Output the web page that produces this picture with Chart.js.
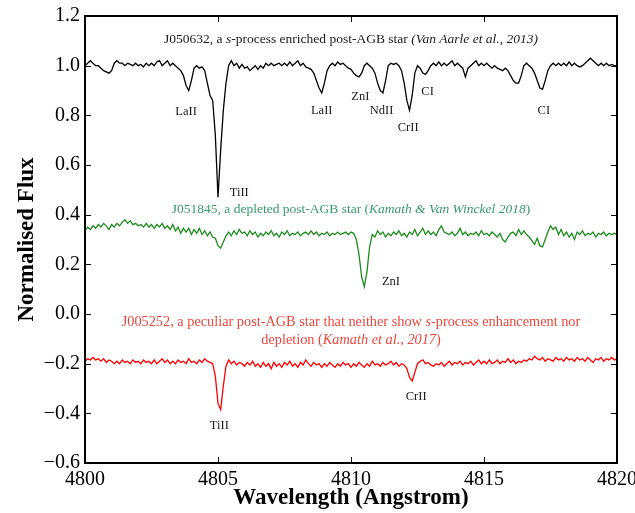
<!DOCTYPE html>
<html>
<head>
<meta charset="utf-8">
<script src="https://cdn.jsdelivr.net/npm/chart.js@4.4.0/dist/chart.umd.min.js"></script>
<style>
  body { margin: 0; background: #fff; }
  canvas { display: block; }
</style>
</head>
<body>
<canvas id="spectraChart" width="635" height="513"></canvas>
<script>
// wavelength grid (Angstrom)
const wavelength = [
  4800.0,4800.1,4800.2,4800.3,4800.4,4800.5,4800.6,4800.7,4800.8,4800.9,
  4801.0,4801.1,4801.2,4801.3,4801.4,4801.5,4801.6,4801.7,4801.8,4801.9,
  4802.0,4802.1,4802.2,4802.3,4802.4,4802.5,4802.6,4802.7,4802.8,4802.9,
  4803.0,4803.1,4803.2,4803.3,4803.4,4803.5,4803.6,4803.7,4803.8,4803.9,
  4804.0,4804.1,4804.2,4804.3,4804.4,4804.5,4804.6,4804.7,4804.8,4804.9,
  4805.0,4805.1,4805.2,4805.3,4805.4,4805.5,4805.6,4805.7,4805.8,4805.9,
  4806.0,4806.1,4806.2,4806.3,4806.4,4806.5,4806.6,4806.7,4806.8,4806.9,
  4807.0,4807.1,4807.2,4807.3,4807.4,4807.5,4807.6,4807.7,4807.8,4807.9,
  4808.0,4808.1,4808.2,4808.3,4808.4,4808.5,4808.6,4808.7,4808.8,4808.9,
  4809.0,4809.1,4809.2,4809.3,4809.4,4809.5,4809.6,4809.7,4809.8,4809.9,
  4810.0,4810.1,4810.2,4810.3,4810.4,4810.5,4810.6,4810.7,4810.8,4810.9,
  4811.0,4811.1,4811.2,4811.3,4811.4,4811.5,4811.6,4811.7,4811.8,4811.9,
  4812.0,4812.1,4812.2,4812.3,4812.4,4812.5,4812.6,4812.7,4812.8,4812.9,
  4813.0,4813.1,4813.2,4813.3,4813.4,4813.5,4813.6,4813.7,4813.8,4813.9,
  4814.0,4814.1,4814.2,4814.3,4814.4,4814.5,4814.6,4814.7,4814.8,4814.9,
  4815.0,4815.1,4815.2,4815.3,4815.4,4815.5,4815.6,4815.7,4815.8,4815.9,
  4816.0,4816.1,4816.2,4816.3,4816.4,4816.5,4816.6,4816.7,4816.8,4816.9,
  4817.0,4817.1,4817.2,4817.3,4817.4,4817.5,4817.6,4817.7,4817.8,4817.9,
  4818.0,4818.1,4818.2,4818.3,4818.4,4818.5,4818.6,4818.7,4818.8,4818.9,
  4819.0,4819.1,4819.2,4819.3,4819.4,4819.5,4819.6,4819.7,4819.8,4819.9,
  4820.0
];

// J050632 - s-process enriched
const fluxJ050632 = [
  1.00,1.01,1.02,1.01,1.00,1.00,0.99,0.98,0.975,0.97,
  0.98,1.01,1.02,1.01,1.01,1.00,1.01,1.005,1.00,1.01,
  1.00,1.005,0.995,1.01,1.00,1.01,1.00,1.015,1.02,1.00,
  1.01,1.02,1.00,1.01,1.00,0.99,0.98,0.96,0.92,0.90,
  0.94,0.99,1.00,0.99,0.995,0.98,0.93,0.88,0.86,0.72,
  0.47,0.66,0.82,0.93,1.00,1.02,1.00,1.01,0.99,1.005,
  0.99,0.995,0.98,0.99,1.00,0.985,1.00,0.99,1.01,1.00,
  1.01,1.00,1.005,1.01,1.00,1.01,1.00,1.015,1.00,1.01,
  1.02,1.00,1.01,0.995,0.99,0.985,0.97,0.94,0.91,0.89,
  0.93,0.98,1.00,1.01,1.00,1.015,1.005,1.01,1.00,0.99,
  0.985,0.97,0.96,0.955,0.97,1.00,1.01,1.00,0.99,0.97,
  0.93,0.90,0.89,0.94,1.00,1.01,1.005,1.01,1.00,0.98,
  0.93,0.86,0.82,0.88,0.97,1.00,0.99,0.97,0.965,0.98,
  1.00,1.01,1.00,1.015,1.00,1.01,1.00,1.01,1.02,1.00,
  1.01,1.00,0.99,0.955,0.99,1.00,1.01,1.02,1.00,1.01,
  1.00,1.01,1.00,0.99,1.00,0.99,0.985,0.98,0.99,0.98,
  0.96,0.94,0.93,0.93,0.96,1.00,1.01,1.00,0.99,0.97,
  0.94,0.91,0.905,0.94,0.98,1.00,1.01,1.00,1.01,1.00,
  1.01,1.00,1.015,1.00,1.01,1.00,0.995,1.00,1.01,1.02,
  1.03,1.02,1.01,1.00,1.01,1.00,1.01,1.00,1.005,1.00,
  1.00
];

// J051845 - depleted
const fluxJ051845 = [
  0.335,0.35,0.34,0.355,0.345,0.36,0.35,0.365,0.355,0.34,
  0.36,0.35,0.365,0.355,0.37,0.38,0.365,0.375,0.36,0.365,
  0.355,0.36,0.35,0.365,0.35,0.36,0.345,0.36,0.35,0.365,
  0.345,0.355,0.34,0.36,0.335,0.35,0.325,0.345,0.33,0.345,
  0.32,0.34,0.325,0.345,0.32,0.335,0.315,0.33,0.31,0.305,
  0.275,0.265,0.29,0.315,0.33,0.315,0.335,0.32,0.34,0.325,
  0.33,0.315,0.335,0.32,0.33,0.31,0.325,0.315,0.33,0.32,
  0.335,0.315,0.325,0.31,0.33,0.32,0.335,0.315,0.325,0.32,
  0.33,0.315,0.325,0.33,0.32,0.335,0.32,0.33,0.315,0.325,
  0.32,0.33,0.315,0.325,0.32,0.33,0.32,0.325,0.33,0.32,
  0.33,0.325,0.30,0.24,0.15,0.11,0.17,0.27,0.32,0.31,
  0.335,0.32,0.33,0.31,0.325,0.315,0.33,0.32,0.335,0.315,
  0.325,0.31,0.33,0.32,0.34,0.315,0.33,0.345,0.32,0.335,
  0.32,0.33,0.315,0.34,0.355,0.33,0.325,0.32,0.33,0.315,
  0.325,0.345,0.32,0.33,0.315,0.325,0.32,0.33,0.315,0.335,
  0.32,0.325,0.315,0.33,0.32,0.31,0.325,0.30,0.29,0.31,
  0.325,0.33,0.315,0.34,0.32,0.335,0.32,0.31,0.295,0.28,
  0.305,0.275,0.27,0.30,0.33,0.355,0.34,0.35,0.32,0.34,
  0.315,0.33,0.31,0.325,0.30,0.33,0.32,0.335,0.315,0.325,
  0.32,0.33,0.31,0.325,0.32,0.33,0.315,0.325,0.32,0.325,
  0.32
];

// J005252 - peculiar
const fluxJ005252 = [
  -0.19,-0.18,-0.185,-0.175,-0.185,-0.18,-0.19,-0.18,-0.195,-0.185,
  -0.19,-0.20,-0.19,-0.20,-0.185,-0.195,-0.19,-0.20,-0.185,-0.195,
  -0.19,-0.20,-0.185,-0.195,-0.19,-0.20,-0.185,-0.20,-0.19,-0.18,
  -0.195,-0.185,-0.20,-0.19,-0.20,-0.185,-0.195,-0.19,-0.20,-0.18,
  -0.195,-0.19,-0.20,-0.185,-0.195,-0.18,-0.19,-0.195,-0.20,-0.25,
  -0.36,-0.385,-0.29,-0.21,-0.185,-0.20,-0.19,-0.205,-0.195,-0.20,
  -0.21,-0.195,-0.205,-0.19,-0.21,-0.20,-0.215,-0.195,-0.21,-0.20,
  -0.22,-0.195,-0.21,-0.20,-0.215,-0.195,-0.205,-0.19,-0.21,-0.20,
  -0.215,-0.195,-0.205,-0.185,-0.20,-0.21,-0.195,-0.205,-0.20,-0.215,
  -0.20,-0.21,-0.195,-0.205,-0.215,-0.20,-0.21,-0.195,-0.205,-0.20,
  -0.215,-0.20,-0.21,-0.195,-0.205,-0.215,-0.20,-0.21,-0.19,-0.205,
  -0.20,-0.21,-0.195,-0.205,-0.20,-0.19,-0.205,-0.195,-0.21,-0.20,
  -0.205,-0.22,-0.255,-0.27,-0.235,-0.20,-0.19,-0.185,-0.20,-0.195,
  -0.205,-0.21,-0.20,-0.205,-0.195,-0.21,-0.20,-0.19,-0.205,-0.195,
  -0.20,-0.19,-0.205,-0.195,-0.20,-0.19,-0.205,-0.195,-0.185,-0.20,
  -0.19,-0.20,-0.185,-0.20,-0.195,-0.185,-0.20,-0.19,-0.195,-0.18,
  -0.195,-0.185,-0.20,-0.19,-0.195,-0.185,-0.19,-0.18,-0.185,-0.17,
  -0.18,-0.185,-0.175,-0.19,-0.18,-0.185,-0.19,-0.175,-0.185,-0.18,
  -0.19,-0.175,-0.185,-0.18,-0.19,-0.175,-0.185,-0.18,-0.19,-0.175,
  -0.185,-0.195,-0.18,-0.185,-0.175,-0.19,-0.18,-0.185,-0.175,-0.185,
  -0.18
];

// line identifications (label, wavelength, flux where the label sits)
const blackLineNames = ['LaII', 'TiII', 'LaII', 'ZnI', 'NdII', 'CrII', 'CI', 'CI'];
const blackLineWave  = [4803.8, 4805.8, 4808.9, 4810.35, 4811.15, 4812.15, 4812.88, 4817.25];
const blackLineFlux  = [0.815, 0.49, 0.82, 0.875, 0.82, 0.75, 0.895, 0.82];
const greenLineNames = ['ZnI'];
const greenLineWave  = [4811.5];
const greenLineFlux  = [0.13];
const redLineNames   = ['TiII', 'CrII'];
const redLineWave    = [4805.05, 4812.45];
const redLineFlux    = [-0.45, -0.335];

// star captions: [text, italic]
const blackCaption = [['J050632, a ', false], ['s', true], ['-process enriched post-AGB star ', false], ['(Van Aarle et al., 2013)', true]];
const greenCaption = [['J051845, a depleted post-AGB star (', false], ['Kamath & Van Winckel 2018', true], [')', false]];
const redCaption1 = [['J005252, a peculiar post-AGB star that neither show ', false], ['s', true], ['-process enhancement nor', false]];
const redCaption2 = [['depletion (', false], ['Kamath et al., 2017', true], [')', false]];
const captionWave = [4810.0, 4810.0, 4810.0, 4810.0];
const captionFlux = [1.105, 0.42, -0.035, -0.105];

const xTicks = [4800, 4805, 4810, 4815, 4820];
const yTicks = [-0.6, -0.4, -0.2, 0.0, 0.2, 0.4, 0.6, 0.8, 1.0, 1.2];

const serif = "'Liberation Serif', 'DejaVu Serif', serif";

function drawRich(ctx, parts, cx, cy, size, color) {
    let total = 0;
    parts.forEach(p => {
        ctx.font = (p[1] ? 'italic ' : '') + size + 'px ' + serif;
        total += ctx.measureText(p[0]).width;
    });
    let x = cx - total / 2;
    ctx.fillStyle = color;
    ctx.textAlign = 'left';
    ctx.textBaseline = 'middle';
    parts.forEach(p => {
        ctx.font = (p[1] ? 'italic ' : '') + size + 'px ' + serif;
        ctx.fillText(p[0], x, cy);
        x += ctx.measureText(p[0]).width;
    });
}

// frame, inward ticks on all four sides, and the text annotations
const annotations = {
    id: 'annotations',
    afterDatasetsDraw(chart) {
        const { ctx, chartArea: a, scales: { x, y } } = chart;
        ctx.save();
        ctx.strokeStyle = '#000';
        ctx.lineWidth = 1;
        const tl = 6;
        xTicks.forEach(v => {
            const px = Math.round(x.getPixelForValue(v)) + 0.5;
            ctx.beginPath();
            ctx.moveTo(px, a.bottom); ctx.lineTo(px, a.bottom - tl);
            ctx.moveTo(px, a.top); ctx.lineTo(px, a.top + tl);
            ctx.stroke();
        });
        yTicks.forEach(v => {
            const py = Math.round(y.getPixelForValue(v)) + 0.5;
            ctx.beginPath();
            ctx.moveTo(a.left, py); ctx.lineTo(a.left + tl, py);
            ctx.moveTo(a.right, py); ctx.lineTo(a.right - tl, py);
            ctx.stroke();
        });
        ctx.lineWidth = 2;
        ctx.strokeRect(a.left, a.top, a.right - a.left, a.bottom - a.top);

        ctx.textAlign = 'center';
        ctx.textBaseline = 'middle';
        ctx.font = '12.5px ' + serif;
        ctx.fillStyle = '#1a1a1a';
        const groups = [
            [blackLineNames, blackLineWave, blackLineFlux],
            [greenLineNames, greenLineWave, greenLineFlux],
            [redLineNames, redLineWave, redLineFlux]
        ];
        groups.forEach(([names, waves, fluxes]) => {
            names.forEach((n, i) => {
                ctx.fillText(n, x.getPixelForValue(waves[i]), y.getPixelForValue(fluxes[i]));
            });
        });

        const captions = [blackCaption, greenCaption, redCaption1, redCaption2];
        const captionColors = ['#1a1a1a', '#3a9a6c', '#e8483e', '#e8483e'];
        const captionSizes = [13.5, 13.5, 14.3, 14.3];
        captions.forEach((c, i) => {
            drawRich(ctx, c, x.getPixelForValue(captionWave[i]), y.getPixelForValue(captionFlux[i]), captionSizes[i], captionColors[i]);
        });
        ctx.restore();
    }
};

function toPoints(flux) {
    return wavelength.map((w, i) => ({ x: w, y: flux[i] }));
}

const ctx = document.getElementById('spectraChart').getContext('2d');
new Chart(ctx, {
    type: 'line',
    data: {
        datasets: [
            { label: 'J050632', data: toPoints(fluxJ050632), borderColor: '#000000', borderWidth: 1.3 },
            { label: 'J051845', data: toPoints(fluxJ051845), borderColor: '#1e8c1e', borderWidth: 1.3 },
            { label: 'J005252', data: toPoints(fluxJ005252), borderColor: '#ff0000', borderWidth: 1.3 }
        ]
    },
    options: {
        responsive: false,
        animation: false,
        elements: { point: { radius: 0 }, line: { tension: 0 } },
        layout: { padding: { top: 16, right: 18, left: 0, bottom: 0 } },
        plugins: { legend: { display: false }, tooltip: { enabled: false } },
        scales: {
            x: {
                type: 'linear',
                min: 4800,
                max: 4820,
                grid: { display: false, drawTicks: false },
                border: { display: false },
                afterBuildTicks: s => { s.ticks = xTicks.map(v => ({ value: v })); },
                ticks: {
                    color: '#000',
                    padding: 5,
                    maxRotation: 0,
                    font: { family: serif, size: 20 },
                    callback: v => String(v)
                },
                title: {
                    display: true,
                    text: 'Wavelength (Angstrom)',
                    color: '#000',
                    padding: { top: 0, bottom: 1 },
                    font: { family: serif, size: 23, weight: 'bold' }
                },
                afterFit: s => { s.height = 50; s.paddingLeft = 0; s.paddingRight = 0; }
            },
            y: {
                min: -0.6,
                max: 1.2,
                grid: { display: false, drawTicks: false },
                border: { display: false },
                afterBuildTicks: s => { s.ticks = yTicks.map(v => ({ value: v })); },
                ticks: {
                    color: '#000',
                    padding: 5,
                    font: { family: serif, size: 20 },
                    callback: v => v.toFixed(1).replace('-', '\u2212')
                },
                title: {
                    display: true,
                    text: 'Normalised Flux',
                    color: '#000',
                    padding: { top: 13, bottom: 0 },
                    font: { family: serif, size: 23, weight: 'bold' }
                },
                afterFit: s => { s.width = 85; s.paddingTop = 0; s.paddingBottom = 0; }
            }
        }
    },
    plugins: [annotations]
});
</script>
</body>
</html>
